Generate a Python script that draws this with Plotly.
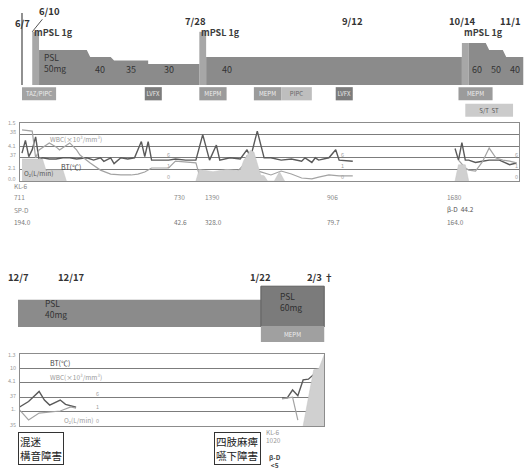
import plotly.graph_objects as go
from datetime import date

W, H = 530, 471
FONT = "Noto Sans CJK JP, Noto Sans, sans-serif"

# ---------------- top course (June - November) ----------------
TOP_ORIGIN = (2011, 6, 7)
top_date_labels = ["6/7", "7/28", "9/12", "10/14", "11/1"]

mpsl_start_top = ["6/10", "7/29", "10/14"]
mpsl_end_top = ["6/12", "7/31", "10/16"]
mpsl_bar_height_top = [76, 76, 60]          # mPSL 1g pulse, drawn off-scale

psl_start_top = ["6/12", "6/27", "7/4", "7/14", "7/31", "10/16", "10/22", "10/27"]
psl_end_top = ["6/26", "7/3", "7/14", "7/29", "10/14", "10/21", "10/26", "11/1"]
psl_dose_top = [50, 40, 35, 30, 40, 60, 50, 40]

abx_name_top = ["TAZ/PIPC", "LVFX", "MEPM", "MEPM", "PIPC", "LVFX", "MEPM", "S/T  ST"]
abx_start_top = ["6/7", "7/13", "7/29", "8/14", "8/22", "9/7", "10/13", "10/15"]
abx_end_top = ["6/17", "7/18", "8/6", "8/22", "8/31", "9/12", "10/23", "10/29"]
abx_row_top = [0, 0, 0, 0, 0, 0, 0, 1]

# lab values (day = days since 6/7)
bt_day_top = [0, 1, 2, 3, 4, 5, 6, 8, 10, 12, 14, 16, 19, 21, 23, 24, 26, 27, 29, 31,
              33, 35, 36, 37, 38, 40, 43, 45, 48, 51, 53, 55, 57, 58, 61, 64, 66, 67, 69, 71,
              73, 76, 79, 82, 83, 85, 86, 87, 89, 90, 92, 93, 97, None,
              127, 128, 129, 130, 131, 133, 135, 137, 140, 142, 143, 145]
bt_val_top = [37.4, 38.5, 37.1, 37.7, 38.8, 36.8, 37.0, 36.9, 36.9, 37.0, 37.0, 36.9, 37.0, 36.8, 37.0, 36.7, 37.0, 36.5, 37.0, 36.9,
              37.0, 38.4, 37.1, 38.4, 36.8, 36.8, 36.8, 36.9, 36.8, 36.8, 39.0, 36.8, 38.1, 36.8, 37.0, 36.9, 37.7, 37.0, 39.3, 37.0,
              37.0, 36.8, 36.9, 36.7, 37.0, 36.6, 37.0, 36.8, 36.9, 37.0, 37.7, 36.8, 36.7, None,
              37.8, 36.8, 38.3, 36.8, 36.8, 36.6, 36.7, 36.8, 36.8, 36.55, 36.4, 36.55]
wbc_day_top = [0, 3, 4, 5, 8, 10, 11, 14, 16, 17, 20, 23, 26, 29, 32, 34, 36, 38, 41, 43,
               45, 51, 52, 54, 57, 60, 63, 65, 66, 68, 70, 73, 76, 79, 82, 85, 87, 90, 93, 97, None,
               128, 130, 131, 133, 135, 137, 139, 141, 143, 145]
wbc_val_top = [22, 21.5, 10, 13.4, 16.4, 14.7, 13.4, 16.4, 13.4, 11.2, 7.8, 4.7, 3.0, 2.6, 2.6, 3.0, 3.9, 5.6, 5.6, 5.6,
               8.6, 7.8, 2.6, 1.3, 1.3, 2.2, 3.9, 6.9, 11, 4.7, 3.9, 2.6, 4.3, 3.0, 1.3, 0.9, 1.7, 2.6, 2.2, 2.2, None,
               9.0, 5.6, 4.7, 4.3, 8.2, 14.2, 9.9, 9.0, 8.6, 7.8]
o2_day_top = [[0, 6, 7, 12, 13],
              [51, 52, 56, 60, 64, 65, 67, 68, 70, 71, 72, 74, 75.5, 77],
              [127, 128, 130, 131]]
o2_val_top = [[3.8, 3.8, 1.9, 1.9, 0],
              [0, 2.0, 1.6, 2.0, 1.8, 3.5, 5.3, 5.0, 1.0, 0.9, 0, 0, 1.6, 0],
              [0, 2.8, 2.8, 0]]
scale_mark_day_top = [43, 94, 145]
axis_label_text_top = ["1.5", "38", "4.1", "37", "2.1", "0.0"]
axis_label_bt_top = [40.0, 39.2, 38.0, 37.2, 36.1, 35.2]

kl6_date_top = ["6/4", "7/21", "7/30", "9/4", "10/9"]
kl6_val_top = ["711", "730", "1390", "906", "1680"]
spd_val_top = ["194.0", "42.6", "328.0", "79.7", "164.0"]
bd_date_top, bd_val_top = "10/9", "44.2"

# ---------------- bottom course (December - February) ----------------
BOT_ORIGIN = (2011, 12, 7)
bot_date_labels = ["12/7", "12/17", "1/22", "2/3 †"]
psl_start_bot = ["12/7", "1/22"]
psl_end_bot = ["1/22", "2/3"]
psl_dose_bot = [40, 60]
abx_name_bot = ["MEPM"]
abx_start_bot = ["1/22"]
abx_end_bot = ["2/3"]

bt_day_bot = [0, 2, 4, 5, 6, 8, 9, 11, None, 50, 51, 52, 53, 54, 55, 57, 58]
bt_val_bot = [36.25, 36.7, 37.4, 36.8, 36.45, 36.8, 36.5, 36.3, None,
              36.95, 36.95, 37.5, 37.1, 38.2, 38.25, 38.9, 39.05]
wbc_day_bot = [0, 2, 4, 6, 8, 10, 11, None, 50, 52, 53]
wbc_val_bot = [6.2, 2.1, 4.5, 4.9, 5.2, 6.6, 6.2, None, 9.4, 10.0, 2.0]
o2_day_bot = [54, 56, 57, 58]
o2_val_bot = [0, 7.8, 8.0, 9.9]
scale_mark_day_bot = 15
axis_label_text_bot = ["1.3", "10", "4.1", "37", "1.", "35"]
axis_label_bt_bot = [39.95, 39.0, 38.1, 37.1, 36.2, 35.05]
event_text_bot = ["混迷<br>構音障害", "四肢麻痺<br>嚥下障害"]
event_date_bot = ["12/7", "1/22"]
kl6_val_bot, bd_val_bot, note_date_bot = "1020", "<5", "1/22"

scale_marks = ["6", "1", "0"]
scale_mark_bt = [37.2, 36.3, 35.35]


def day(s, origin):
    y0, m0, d0 = origin
    m, d = map(int, s.split(" ")[0].split("/"))
    y = y0 if m >= m0 else y0 + 1
    return (date(y, m, d) - date(y0, m0, d0)).days


def dt(s):
    return day(s, TOP_ORIGIN)


def db(s):
    return day(s, BOT_ORIGIN)


def P(px, py):
    return px / W, 1 - py / H


# timeline scales (pixels per day)
TOP_X0, TOP_K = 22, 3.41
BOT_X0, BOT_K = 18, 5.28

abx_color = {"TAZ/PIPC": "#a3a3a3", "LVFX": "#7c7c7c", "MEPM": "#9b9b9b",
             "PIPC": "#bebebe", "S/T  ST": "#cbcbcb"}
abx_text = {"TAZ/PIPC": "#eeeeee", "LVFX": "#e6e6e6", "MEPM": "#eeeeee",
            "PIPC": "#666666", "S/T  ST": "#555555"}

PSL_C = "#8b8b8b"
MPSL_C = "#a7a7a7"
BT_C = "#5a5a5a"
WBC_C = "#a3a3a3"
O2_C = "#d0d0d0"

fig = go.Figure()


def psl_blocks(starts, ends, doses, conv):
    blocks, bx, by, prev = [], [], [], None
    for s, e, dz in zip(starts, ends, doses):
        sd, ed = conv(s), conv(e)
        if prev is not None and sd - prev > 1:
            blocks.append((bx, by))
            bx, by = [], []
        bx += [sd, ed]
        by += [dz, dz]
        prev = ed
    blocks.append((bx, by))
    return blocks


for bx, by in psl_blocks(psl_start_top, psl_end_top, psl_dose_top, dt):
    fig.add_trace(go.Scatter(x=bx, y=by, mode="lines", fill="tozeroy", fillcolor=PSL_C,
                             line=dict(width=0, color=PSL_C), xaxis="x", yaxis="y", hoverinfo="skip"))

ms = [dt(s) for s in mpsl_start_top]
me = [dt(e) for e in mpsl_end_top]
fig.add_trace(go.Bar(x=[(a + b) / 2 for a, b in zip(ms, me)], width=[b - a for a, b in zip(ms, me)],
                     y=mpsl_bar_height_top, base=0, marker=dict(color=MPSL_C, line=dict(width=0)),
                     xaxis="x", yaxis="y", hoverinfo="skip"))

a_s = [dt(s) for s in abx_start_top]
a_e = [dt(e) for e in abx_end_top]
fig.add_trace(go.Bar(orientation="h", y=abx_row_top, x=[b - a for a, b in zip(a_s, a_e)], base=a_s,
                     width=0.8, marker=dict(color=[abx_color[n] for n in abx_name_top], line=dict(width=0)),
                     text=abx_name_top, textposition="inside", insidetextanchor="middle",
                     textangle=0, constraintext="none",
                     textfont=dict(size=6, family=FONT, color=[abx_text[n] for n in abx_name_top]),
                     xaxis="x", yaxis="y2", hoverinfo="skip"))

for xs, ys in zip(o2_day_top, o2_val_top):
    fig.add_trace(go.Scatter(x=xs, y=ys, mode="lines", fill="tozeroy", fillcolor=O2_C,
                             line=dict(width=0.5, color="#c4c4c4"), xaxis="x2", yaxis="y5", hoverinfo="skip"))
fig.add_trace(go.Scatter(x=wbc_day_top, y=wbc_val_top, mode="lines", line=dict(color=WBC_C, width=1.2),
                         xaxis="x2", yaxis="y4", connectgaps=False, hoverinfo="skip"))
fig.add_trace(go.Scatter(x=bt_day_top, y=bt_val_top, mode="lines", line=dict(color=BT_C, width=1.4),
                         xaxis="x2", yaxis="y3", connectgaps=False, hoverinfo="skip"))

ps = [db(s) for s in psl_start_bot]
pe = [db(e) for e in psl_end_bot]
fig.add_trace(go.Bar(x=[(a + b) / 2 for a, b in zip(ps, pe)], width=[b - a for a, b in zip(ps, pe)],
                     y=psl_dose_bot, base=0,
                     marker=dict(color=[PSL_C, "#7b7b7b"], line=dict(color=[PSL_C, "#5e5e5e"], width=[0, 1])),
                     xaxis="x3", yaxis="y6", hoverinfo="skip"))
bs = [db(s) for s in abx_start_bot]
be = [db(e) for e in abx_end_bot]
fig.add_trace(go.Bar(orientation="h", y=[0] * len(bs), x=[b - a for a, b in zip(bs, be)], base=bs,
                     width=0.9, marker=dict(color="#a0a0a0", line=dict(width=0)),
                     text=abx_name_bot, textposition="inside", insidetextanchor="middle", textangle=0,
                     constraintext="none", textfont=dict(size=6, family=FONT, color="#eeeeee"),
                     xaxis="x3", yaxis="y7", hoverinfo="skip"))

fig.add_trace(go.Scatter(x=o2_day_bot, y=o2_val_bot, mode="lines", fill="tozeroy", fillcolor=O2_C,
                         line=dict(width=0.5, color="#c4c4c4"), xaxis="x4", yaxis="y10", hoverinfo="skip"))
fig.add_trace(go.Scatter(x=wbc_day_bot, y=wbc_val_bot, mode="lines", line=dict(color=WBC_C, width=1.2),
                         xaxis="x4", yaxis="y9", connectgaps=False, hoverinfo="skip"))
fig.add_trace(go.Scatter(x=bt_day_bot, y=bt_val_bot, mode="lines", line=dict(color=BT_C, width=1.4),
                         xaxis="x4", yaxis="y8", connectgaps=False, hoverinfo="skip"))

fig.add_shape(type="line", xref="x", yref="y", x0=dt("6/7"), x1=dt("6/7"), y0=0, y1=103,
              line=dict(color="#555555", width=1.3))

ann = []


def txt(text, x, y, xref="paper", yref="paper", size=7, color="#888888", xanchor="center",
        yanchor="middle", **kw):
    ann.append(dict(text=text, x=x, y=y, xref=xref, yref=yref, showarrow=False,
                    font=dict(size=size, color=color, family=FONT), xanchor=xanchor, yanchor=yanchor, **kw))


DATE_SIZE = 9.5
UP = 4  # vertical nudge for the larger labels of the top strip
for i, lbl in enumerate(top_date_labels):
    last = i == len(top_date_labels) - 1
    txt("<b>%s</b>" % lbl, dt(lbl), P(0, 27 if i == 0 else 25)[1], xref="x", size=DATE_SIZE,
        color="#333333", xanchor="right" if last else "center", yshift=UP)
ann.append(dict(text="<b>6/10</b>", x=dt("6/10"), y=mpsl_bar_height_top[0], xref="x", yref="y",
                showarrow=True, ax=17, ay=-21, arrowhead=0, arrowwidth=1, arrowcolor="#555555",
                standoff=0, font=dict(size=DATE_SIZE, color="#333333", family=FONT)))
for s in mpsl_start_top:
    txt("<b>mPSL 1g</b>", dt(s), P(0, 37)[1], xref="x", size=9, color="#3c3c3c", xanchor="left", yshift=UP)

txt("PSL<br>50mg", dt(psl_start_top[0]), 26.5, xref="x", yref="y", size=8.5, color="#333333",
    xanchor="left", align="left", xshift=3, yshift=UP)
for s, e, dz in list(zip(psl_start_top, psl_end_top, psl_dose_top))[1:]:
    mid = min((dt(s) + dt(e)) / 2, dt(s) + 6)
    txt(str(dz), mid, 17, xref="x", yref="y", size=9, color="#333333", yshift=UP)

# left scale labels of the lab charts
for t, v in zip(axis_label_text_top, axis_label_bt_top):
    txt(t, P(18, 0)[0], v, yref="y3", size=5.5, color="#9a9a9a", xanchor="right")
for t, v in zip(axis_label_text_bot, axis_label_bt_bot):
    txt(t, P(18, 0)[0], v, yref="y8", size=5.5, color="#9a9a9a", xanchor="right")

txt("WBC(×10³/mm³)", *P(48, 139), size=6.5, color="#9a9a9a", xanchor="left")
txt("BT(℃)", *P(59, 167), size=7, color="#444444", xanchor="left")
txt("O₂(L/min)", *P(22, 173), size=6.5, color="#555555", xanchor="left")
for dd in scale_mark_day_top:
    for m, v in zip(scale_marks, scale_mark_bt):
        txt(m, dd, v, xref="x2", yref="y3", size=5.5, color="#a0a0a0")

txt("KL-6", dt(kl6_date_top[0]), P(0, 186)[1], xref="x", size=6.5, color="#888888", xanchor="left")
txt("SP-D", dt(kl6_date_top[0]), P(0, 210)[1], xref="x", size=6.5, color="#888888", xanchor="left")
for d_, k, s in zip(kl6_date_top, kl6_val_top, spd_val_top):
    txt(k, dt(d_), P(0, 197)[1], xref="x", size=6.5, color="#888888", xanchor="left")
    txt(s, dt(d_), P(0, 222)[1], xref="x", size=6.5, color="#777777", xanchor="left")
txt("β-D  " + bd_val_top, dt(bd_date_top), P(0, 209)[1], xref="x", size=6.5, color="#555555", xanchor="left")

for lbl in bot_date_labels:
    txt("<b>%s</b>" % lbl, db(lbl), P(0, 277)[1], xref="x3", size=DATE_SIZE, color="#333333",
        xshift=-4 if "†" in lbl else 0)
txt("PSL<br>40mg", db(psl_start_bot[0]), 27, xref="x3", yref="y6", size=8.5, color="#333333",
    xanchor="left", align="left", xshift=25)
txt("PSL<br>60mg", (db(psl_start_bot[1]) + db(psl_end_bot[1])) / 2, 37, xref="x3", yref="y6", size=8.5,
    color="#2e2e2e", align="left", xshift=-2)

txt("BT(℃)", *P(48, 363), size=7, color="#444444", xanchor="left")
txt("WBC(×10³/mm³)", *P(48, 377), size=6.5, color="#9a9a9a", xanchor="left")
txt("O₂(L/min)", *P(62, 420), size=6.5, color="#9a9a9a", xanchor="left")
for m, v in zip(scale_marks, scale_mark_bt):
    txt(m, scale_mark_day_bot, v, xref="x4", yref="y8", size=5.5, color="#a0a0a0")

for i, (t, d_) in enumerate(zip(event_text_bot, event_date_bot)):
    ann.append(dict(text=t, x=db(d_), y=P(0, 432)[1], xref="x3", yref="paper", showarrow=False,
                    xanchor="left" if i == 0 else "right", yanchor="top", align="left",
                    bordercolor="#333333", borderwidth=1, borderpad=1,
                    font=dict(size=10.5, color="#222222", family=FONT)))

txt("KL-6<br>" + kl6_val_bot, db(note_date_bot), P(0, 436)[1], xref="x3", size=6.5, color="#999999",
    xanchor="left", align="left", xshift=3)
txt("<b>β-D</b><br><b>" + bd_val_bot.replace("<", "&lt;") + "</b>", db(note_date_bot), P(0, 461)[1],
    xref="x3", size=6.5, color="#444444", xanchor="left", align="center", xshift=6)

fig.update_layout(annotations=ann)

hidden = dict(visible=False, showgrid=False, zeroline=False, fixedrange=True)
frame = dict(showline=True, mirror=True, linecolor="#8c8c8c", linewidth=1, zeroline=False, ticks="")
grid = dict(tickvals=[35, 36, 37, 38, 39, 40], showticklabels=False, showgrid=True,
            gridcolor="#7c7c7c", gridwidth=1.3)

fig.update_layout(
    width=W, height=H, margin=dict(l=0, r=0, t=0, b=0),
    paper_bgcolor="white", plot_bgcolor="rgba(0,0,0,0)", showlegend=False, barmode="overlay",
    font=dict(family=FONT), hovermode=False,
    xaxis=dict(domain=[0, 1], range=[-TOP_X0 / TOP_K, (W - TOP_X0) / TOP_K], anchor="y", **hidden),
    yaxis=dict(domain=[1 - 85 / H, 1 - 10 / H], range=[0, 75 / 0.7], anchor="x", **hidden),
    yaxis2=dict(domain=[1 - 119 / H, 1 - 85 / H], range=[1.53, -0.53], anchor="x", **hidden),
    xaxis2=dict(domain=[20 / W, 519 / W], range=[(20 - TOP_X0) / TOP_K, (519 - TOP_X0) / TOP_K],
                anchor="y3", showgrid=False, showticklabels=False, **frame),
    yaxis3=dict(domain=[1 - 181 / H, 1 - 123 / H], range=[35, 40], anchor="x2", **grid, **frame),
    yaxis4=dict(overlaying="y3", anchor="x2", range=[0, 25], **hidden),
    yaxis5=dict(overlaying="y3", anchor="x2", range=[0, 10], **hidden),
    xaxis3=dict(domain=[0, 1], range=[-BOT_X0 / BOT_K, (W - BOT_X0) / BOT_K], anchor="y6", **hidden),
    yaxis6=dict(domain=[1 - 327 / H, 1 - 262 / H], range=[0, 65 / 0.68], anchor="x3", **hidden),
    yaxis7=dict(domain=[1 - 343 / H, 1 - 325 / H], range=[0.5, -0.5], anchor="x3", **hidden),
    xaxis4=dict(domain=[20 / W, 324 / W], range=[(20 - BOT_X0) / BOT_K, (324 - BOT_X0) / BOT_K],
                anchor="y8", showgrid=False, showticklabels=False, **frame),
    yaxis8=dict(domain=[1 - 426 / H, 1 - 354 / H], range=[35, 40], anchor="x4", **grid, **frame),
    yaxis9=dict(overlaying="y8", anchor="x4", range=[0, 25], **hidden),
    yaxis10=dict(overlaying="y8", anchor="x4", range=[0, 10], **hidden),
)

fig.write_html("out.html", config={"displayModeBar": False, "staticPlot": True},
               post_script="document.body.style.margin='0px';document.body.style.overflow='hidden';")
